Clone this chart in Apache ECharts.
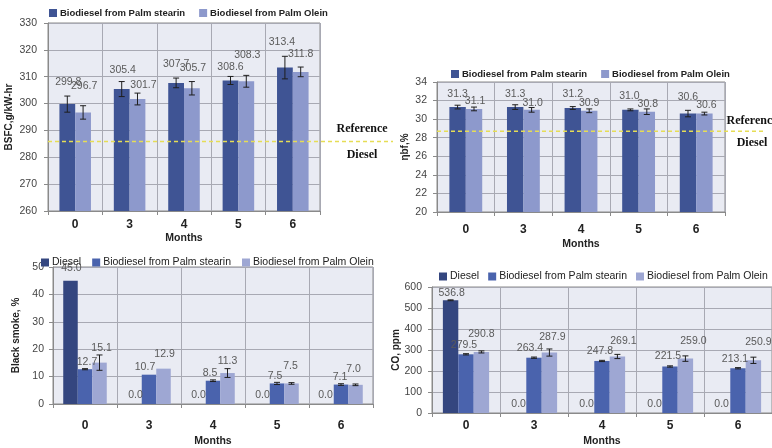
<!DOCTYPE html>
<html>
<head>
<meta charset="utf-8">
<script src="https://cdn.jsdelivr.net/npm/echarts@6/dist/echarts.min.js"></script>
<style>
  html, body { margin: 0; padding: 0; background: #fff; }
  #chart { width: 772px; height: 448px; }
</style>
</head>
<body>
<div id="chart"></div>
<script>
// Storage months
const months = ['0', '3', '4', '5', '6'];

// Brake specific fuel consumption (g/kW-hr)
const bsfcStearin = [299.8, 305.4, 307.7, 308.6, 313.4];
const bsfcOlein = [296.7, 301.7, 305.7, 308.3, 311.8];
const bsfcStearinErr = [3.0, 2.8, 1.8, 1.5, 4.2];
const bsfcOleinErr = [2.5, 2.2, 2.5, 2.2, 1.8];
const bsfcDieselRef = 285.9;

// Brake thermal efficiency (%)
const effStearin = [31.3, 31.3, 31.2, 31.0, 30.6];
const effOlein = [31.1, 31.0, 30.9, 30.8, 30.6];
const effStearinErr = [0.2, 0.25, 0.15, 0.1, 0.35];
const effOleinErr = [0.2, 0.25, 0.2, 0.3, 0.15];
const effDieselRef = 28.7;

// Black smoke (%)
const smokeDiesel = [45.0, 0.0, 0.0, 0.0, 0.0];
const smokeStearin = [12.7, 10.7, 8.5, 7.5, 7.1];
const smokeOlein = [15.1, 12.9, 11.3, 7.5, 7.0];
const smokeDieselErr = [0, 0, 0, 0, 0];
const smokeStearinErr = [0.2, 0, 0.3, 0.4, 0.3];
const smokeOleinErr = [2.8, 0, 1.6, 0.3, 0.3];

// CO (ppm)
const coDiesel = [536.8, 0.0, 0.0, 0.0, 0.0];
const coStearin = [279.5, 263.4, 247.8, 221.5, 213.1];
const coOlein = [290.8, 287.9, 269.1, 259.0, 250.9];
const coDieselErr = [2, 0, 0, 0, 0];
const coStearinErr = [3, 3, 3, 3, 3];
const coOleinErr = [5, 17, 10, 13, 15];

// Legend wording
const legendText = {
  bsfcS: 'Biodiesel from Palm stearin', bsfcO: 'Biodiesel from Palm Olein',
  effS: 'Biodiesel from Palm stearin', effO: 'Biodiesel from Palm Olein',
  smokeD: 'Diesel', smokeS: 'Biodiesel from Palm stearin', smokeO: 'Biodiesel from Palm Olein',
  coD: 'Diesel', coS: 'Biodiesel from Palm stearin', coO: 'Biodiesel from Palm Olein'
};

// Value-label nudges [dx, dy] so the labels sit clear of each other
const shiftBsfcS = [[1, -16], [1, -13], [0, -13], [0, -8], [-3, -20]];
const shiftBsfcO = [[1, -21], [6, -8], [1, -15], [1, -21], [0, -12]];
const shiftEffS = [[0, -7], [0, -7], [0, -8], [-1, -8], [0, -11]];
const shiftEffO = [[1, -2], [1, -1], [0, -2], [1, -2], [2, -3]];
const shiftSmokeD = [[1, -7], [1, -3], [0, -3], [0, -3], [-1, -3]];
const shiftSmokeS = [[2, -2], [-4, -2], [-3, -2], [-2, -2], [-1, -2]];
const shiftSmokeO = [[2, -9], [1, -9], [0, -6], [-1, -12], [-2, -10]];
const shiftCoD = [[1, -2], [0, -3], [0, -3], [0, -3], [-1, -3]];
const shiftCoS = [[-2, -4], [-4, -4], [-2, -4], [-2, -5], [-3, -4]];
const shiftCoO = [[0, -12], [3, -10], [6, -10], [8, -12], [5, -13]];

const FONT = 'Liberation Sans';
const C = {
  stearinA: '#3F5494', oleinA: '#8D99CC',
  diesel: '#34467F', stearinB: '#4A63AD', oleinB: '#9EA7D3',
  plotBg: '#E9EBF3', split: '#A8A9B3', axis: '#8A8A8A'
};

const chart = echarts.init(document.getElementById('chart'));

function barSeries(name, gi, values, shifts, color, gap) {
  return {
    type: 'bar', name: name, xAxisIndex: gi, yAxisIndex: gi,
    barGap: '0%', barCategoryGap: gap,
    itemStyle: { color: color },
    label: {
      show: true, position: 'top', distance: 0,
      color: '#5a5a5a', fontFamily: FONT, fontSize: 10.5,
      formatter: p => Number(p.value).toFixed(1)
    },
    data: values.map((v, i) => ({ value: v, label: { offset: shifts[i] } })),
    z: 2
  };
}

function errorSeries(gi, values, errs, slot, nSlots, gap) {
  const g = parseFloat(gap) / 100;
  return {
    type: 'custom', xAxisIndex: gi, yAxisIndex: gi, silent: true, z: 5,
    encode: { x: 0, y: 1 },
    data: values.map((v, i) => [i, v, errs[i]]),
    renderItem: function (params, api) {
      const i = api.value(0), v = api.value(1), e = api.value(2);
      if (!e) return null;
      const band = api.size([1, 0])[0];
      const barW = band * (1 - g) / nSlots;
      const cx = api.coord([i, v])[0] - band * (1 - g) / 2 + barW * (slot + 0.5);
      const yT = api.coord([i, v + e])[1];
      const yB = api.coord([i, v - e])[1];
      const st = { stroke: '#1e1e1e', lineWidth: 1 };
      return {
        type: 'group', children: [
          { type: 'line', shape: { x1: cx, y1: yT, x2: cx, y2: yB }, style: st },
          { type: 'line', shape: { x1: cx - 3, y1: yT, x2: cx + 3, y2: yT }, style: st },
          { type: 'line', shape: { x1: cx - 3, y1: yB, x2: cx + 3, y2: yB }, style: st }
        ]
      };
    }
  };
}

// Dashed diesel reference level with its caption, running past the plot edge
function refSeries(gi, value, extend, textDx, upDy, downDy) {
  return {
    type: 'custom', xAxisIndex: gi, yAxisIndex: gi, silent: true, z: 6, clip: false,
    encode: { x: 0, y: 1 },
    data: [[0, value]],
    renderItem: function (params, api) {
      const cs = params.coordSys;
      const y = api.coord([0, api.value(1)])[1];
      const xEnd = cs.x + cs.width + extend;
      const tx = cs.x + cs.width + textDx;
      const ts = { fill: '#111', font: 'bold 12px "Liberation Serif"', textAlign: 'center', textVerticalAlign: 'middle' };
      return {
        type: 'group', children: [
          { type: 'line', shape: { x1: cs.x, y1: y, x2: xEnd, y2: y },
            style: { stroke: '#E6DD55', lineWidth: 1.5, lineDash: [4, 3] } },
          { type: 'text', style: Object.assign({ text: 'Reference', x: tx, y: y + upDy }, ts) },
          { type: 'text', style: Object.assign({ text: 'Diesel', x: tx, y: y + downDy }, ts) }
        ]
      };
    }
  };
}

function xAxis(gi, nameGap, labelMargin) {
  return {
    type: 'category', gridIndex: gi, data: months,
    name: 'Months', nameLocation: 'middle', nameGap: nameGap,
    nameTextStyle: { fontFamily: FONT, fontWeight: 'bold', fontSize: 10.5, color: '#222' },
    axisLine: { lineStyle: { color: C.axis } },
    axisTick: { show: true, length: 4, lineStyle: { color: C.axis } },
    axisLabel: { fontFamily: FONT, fontWeight: 'bold', fontSize: 12, color: '#222', margin: labelMargin },
    splitLine: { show: true, lineStyle: { color: C.split } }
  };
}

function yAxis(gi, name, min, max, step, nameGap, labelMargin) {
  return {
    type: 'value', gridIndex: gi, min: min, max: max, interval: step,
    name: name, nameLocation: 'middle', nameGap: nameGap, nameMoveOverlap: false,
    nameTextStyle: { fontFamily: FONT, fontWeight: 'bold', fontSize: 10, color: '#222' },
    axisLine: { show: true, lineStyle: { color: C.axis } },
    axisTick: { show: true, length: 4, lineStyle: { color: C.axis } },
    axisLabel: { fontFamily: FONT, fontSize: 10.5, color: '#444', margin: labelMargin },
    splitLine: { show: true, lineStyle: { color: C.split } }
  };
}

function legend(left, top, names, bold, gap) {
  return {
    left: left, top: top, width: 420, padding: 0,
    itemWidth: 8, itemHeight: 8, itemGap: gap,
    icon: 'rect',
    data: names,
    formatter: n => legendText[n],
    textStyle: { fontFamily: FONT, fontSize: bold ? 9.5 : 10.5, fontWeight: bold ? 'bold' : 'normal', color: '#222', padding: [0, 0, 0, -2] },
    selectedMode: false
  };
}

const gridBase = { show: true, backgroundColor: C.plotBg, borderColor: C.axis, borderWidth: 1, containLabel: false };

const option = {
  animation: false,
  backgroundColor: '#ffffff',
  grid: [
    Object.assign({ left: 48, top: 23, width: 272, height: 188 }, gridBase),
    Object.assign({ left: 437, top: 82, width: 288, height: 130 }, gridBase),
    Object.assign({ left: 53, top: 267, width: 320, height: 139 }, gridBase),
    Object.assign({ left: 432, top: 287, width: 340, height: 126 }, gridBase)
  ],
  legend: [
    legend(49, 8, ['bsfcS', 'bsfcO'], true, 14),
    legend(451, 69, ['effS', 'effO'], true, 14),
    legend(41, 257, ['smokeD', 'smokeS', 'smokeO'], false, 11),
    legend(439, 271, ['coD', 'coS', 'coO'], false, 9)
  ],
  xAxis: [xAxis(0, 22, 8), xAxis(1, 27, 12), xAxis(2, 32, 16), xAxis(3, 23, 7)],
  yAxis: [
    yAxis(0, 'BSFC,g/kW-hr', 260, 330, 10, 34, 11),
    yAxis(1, 'ηbf,%', 20, 34, 2, 27, 10),
    yAxis(2, 'Black smoke, %', 0, 50, 10, 32, 9),
    yAxis(3, 'CO, ppm', 0, 600, 100, 31, 10)
  ],
  series: [
    barSeries('bsfcS', 0, bsfcStearin, shiftBsfcS, C.stearinA, '42%'),
    barSeries('bsfcO', 0, bsfcOlein, shiftBsfcO, C.oleinA, '42%'),
    errorSeries(0, bsfcStearin, bsfcStearinErr, 0, 2, '42%'),
    errorSeries(0, bsfcOlein, bsfcOleinErr, 1, 2, '42%'),
    refSeries(0, bsfcDieselRef, 73, 42, -13, 13),

    barSeries('effS', 1, effStearin, shiftEffS, C.stearinA, '43%'),
    barSeries('effO', 1, effOlein, shiftEffO, C.oleinA, '43%'),
    errorSeries(1, effStearin, effStearinErr, 0, 2, '43%'),
    errorSeries(1, effOlein, effOleinErr, 1, 2, '43%'),
    refSeries(1, effDieselRef, 40, 27, -10, 12),

    barSeries('smokeD', 2, smokeDiesel, shiftSmokeD, C.diesel, '32%'),
    barSeries('smokeS', 2, smokeStearin, shiftSmokeS, C.stearinB, '32%'),
    barSeries('smokeO', 2, smokeOlein, shiftSmokeO, C.oleinB, '32%'),
    errorSeries(2, smokeDiesel, smokeDieselErr, 0, 3, '32%'),
    errorSeries(2, smokeStearin, smokeStearinErr, 1, 3, '32%'),
    errorSeries(2, smokeOlein, smokeOleinErr, 2, 3, '32%'),

    barSeries('coD', 3, coDiesel, shiftCoD, C.diesel, '32%'),
    barSeries('coS', 3, coStearin, shiftCoS, C.stearinB, '32%'),
    barSeries('coO', 3, coOlein, shiftCoO, C.oleinB, '32%'),
    errorSeries(3, coDiesel, coDieselErr, 0, 3, '32%'),
    errorSeries(3, coStearin, coStearinErr, 1, 3, '32%'),
    errorSeries(3, coOlein, coOleinErr, 2, 3, '32%')
  ]
};

chart.setOption(option);
</script>
</body>
</html>
